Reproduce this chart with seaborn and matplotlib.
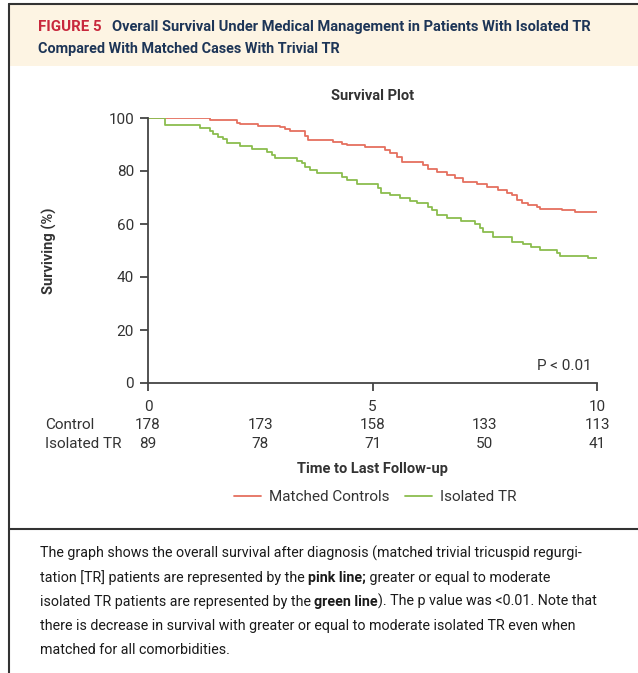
import matplotlib
matplotlib.use("Agg")
import matplotlib.pyplot as plt
from matplotlib.patches import Rectangle
from matplotlib.lines import Line2D
import pandas as pd
import seaborn as sns

# Kaplan-Meier step points (years, % surviving)
CONTROL_T = [0, 1.38, 1.98, 2.05, 2.46, 2.94, 3.05, 3.16, 3.50, 3.56, 4.12, 4.31,
             4.43, 4.83, 5.28, 5.39, 5.54, 5.65, 6.13, 6.24, 6.43, 6.65, 6.84,
             7.02, 7.32, 7.54, 7.80, 7.99, 8.10, 8.21, 8.32, 8.47, 8.66, 8.73,
             9.21, 9.51, 10.0]
CONTROL_S = [100, 99.2, 98.2, 97.7, 97.0, 96.5, 95.7, 95.1, 93.3, 91.7, 90.8, 90.2,
             89.8, 89.2, 87.9, 86.7, 85.4, 83.5, 82.3, 80.6, 79.7, 78.5, 77.2,
             76.0, 75.0, 74.1, 73.0, 71.8, 70.9, 69.0, 68.0, 67.2, 66.3, 65.7,
             65.2, 64.7, 64.7]
TR_T = [0, 0.38, 1.16, 1.38, 1.45, 1.56, 1.67, 1.75, 2.05, 2.31, 2.64, 2.76, 2.83,
        3.31, 3.42, 3.50, 3.61, 3.76, 4.31, 4.43, 4.65, 5.13, 5.20, 5.39, 5.61,
        5.84, 5.98, 6.24, 6.32, 6.43, 6.65, 6.98, 7.28, 7.39, 7.47, 7.69, 8.10,
        8.36, 8.54, 8.73, 9.10, 9.18, 9.81, 10.0]
TR_S = [100, 97.5, 96.1, 95.2, 94.0, 92.9, 91.9, 90.7, 89.4, 88.2, 87.3, 86.0, 84.8,
        83.9, 82.9, 81.6, 80.4, 79.1, 77.9, 76.6, 75.1, 73.5, 71.8, 70.9, 70.0,
        68.8, 68.0, 66.5, 65.3, 63.4, 62.3, 61.2, 60.0, 58.4, 57.1, 55.0, 53.3,
        52.5, 51.4, 50.2, 49.2, 47.9, 47.0, 47.0]

RISK_T = [0, 2.5, 5, 7.5, 10]
RISK_CONTROL = [178, 173, 158, 133, 113]
RISK_TR = [89, 78, 71, 50, 41]
GROUPS = ["Matched Controls", "Isolated TR"]
COLORS = ["#e5705f", "#8bbd4e"]

sns.set_theme(style="white")
plt.rcParams["font.family"] = ["Roboto", "DejaVu Sans"]

df = pd.concat([
    pd.DataFrame({"t": CONTROL_T, "s": CONTROL_S, "group": GROUPS[0]}),
    pd.DataFrame({"t": TR_T, "s": TR_S, "group": GROUPS[1]}),
])

fig = plt.figure(figsize=(6.38, 6.73), dpi=100)
W, H = 638, 673

ax = fig.add_axes([148 / W, 1 - 383 / H, 449 / W, 265 / H])
sns.lineplot(data=df, x="t", y="s", hue="group", palette=COLORS, estimator=None,
             drawstyle="steps-post", linewidth=1.3, ax=ax, legend=False)
ax.set_xlim(0, 10)
ax.set_ylim(0, 100)
ax.set_xticks([0, 5, 10])
ax.set_yticks([0, 20, 40, 60, 80, 100])
ax.set_xlabel("")
ax.set_ylabel("")
for side in ["top", "right"]:
    ax.spines[side].set_visible(False)
for side in ["left", "bottom"]:
    ax.spines[side].set_color("#444444")
    ax.spines[side].set_linewidth(1.3)
ax.tick_params(axis="both", direction="out", length=6, width=1.3, color="#444444",
               labelsize=11, labelcolor="#333333", bottom=True, left=True, pad=4)
ax.tick_params(axis="x", pad=6)

ax.text(0.5, 1.083, "Survival Plot", transform=ax.transAxes, ha="center", va="center",
        fontsize=10.5, fontweight="bold", color="#333333")
ax.text(-0.22, 0.5, "Surviving (%)", transform=ax.transAxes, rotation=90,
        ha="center", va="center", fontsize=10.5, fontweight="bold", color="#333333")
ax.text(0.989, 0.064, "P < 0.01", transform=ax.transAxes, ha="right", va="center",
        fontsize=11, color="#333333")

# number at risk table
trans = ax.get_xaxis_transform()
for label, counts, y in [("Control", RISK_CONTROL, -0.157), ("Isolated TR", RISK_TR, -0.232)]:
    ax.text(-0.229, y, label, transform=ax.transAxes, ha="left", va="center",
            fontsize=11, color="#333333")
    for t, n in zip(RISK_T, counts):
        ax.text(t, y, str(n), transform=trans, ha="center", va="center",
                fontsize=11, color="#333333")

ax.text(0.5, -0.323, "Time to Last Follow-up", transform=ax.transAxes, ha="center",
        va="center", fontsize=10.5, fontweight="bold", color="#333333")

handles = [Line2D([], [], color=c, lw=1.3) for c in COLORS]
fig.legend(handles, GROUPS, loc="center", bbox_to_anchor=(375 / W, 1 - 497 / H),
           ncol=2, frameon=False, fontsize=11, handlelength=1.8, handletextpad=0.5,
           columnspacing=1.0, labelcolor="#333333")

# frame and header band
fig.patches.append(Rectangle((9 / W, 1 - 66 / H), 1, 62 / H, transform=fig.transFigure,
                             facecolor="#fdf4e3", edgecolor="none", zorder=0))
fig.add_artist(Line2D([9 / W, 1], [1 - 4 / H] * 2, color="#333333", lw=1.5))
fig.add_artist(Line2D([9 / W] * 2, [0, 1 - 4 / H], color="#333333", lw=1.5))
fig.add_artist(Line2D([9 / W, 1], [1 - 529 / H] * 2, color="#333333", lw=1.5))

renderer = fig.canvas.get_renderer()


def text_run(x_px, y_px, parts, size, **kw):
    """Write text fragments one after another on a line, each with its own style."""
    x = x_px / W
    for txt, color, bold in parts:
        t = fig.text(x, 1 - y_px / H, txt, color=color, fontsize=size,
                     fontweight="bold" if bold else "normal", va="baseline", **kw)
        x = t.get_window_extent(renderer).x1 / W


NAVY = "#1d3557"
hdr = fig.text(38 / W, 1 - 31 / H, "FIGURE 5", color="#c8283c", fontsize=10.8,
               fontweight="bold", va="baseline")
x0 = hdr.get_window_extent(renderer).x1 + 10
text_run(x0, 31, [("Overall Survival Under Medical Management in Patients With Isolated TR",
                   NAVY, True)], 10.5)
text_run(38, 53, [("Compared With Matched Cases With Trivial TR", NAVY, True)], 10.4)

# caption with bold fragments
INK = "#1a1a1a"
CAPTION = [
    [("The graph shows the overall survival after diagnosis (matched trivial tricuspid regurgi-", INK, False)],
    [("tation [TR] patients are represented by the ", INK, False), ("pink line;", INK, True),
     (" greater or equal to moderate", INK, False)],
    [("isolated TR patients are represented by the ", INK, False), ("green line", INK, True),
     ("). The p value was <0.01. Note that", INK, False)],
    [("there is decrease in survival with greater or equal to moderate isolated TR even when", INK, False)],
    [("matched for all comorbidities.", INK, False)],
]
for i, parts in enumerate(CAPTION):
    text_run(40, 558 + i * 24, parts, 10.3)

fig.savefig("out.png", dpi=100)
